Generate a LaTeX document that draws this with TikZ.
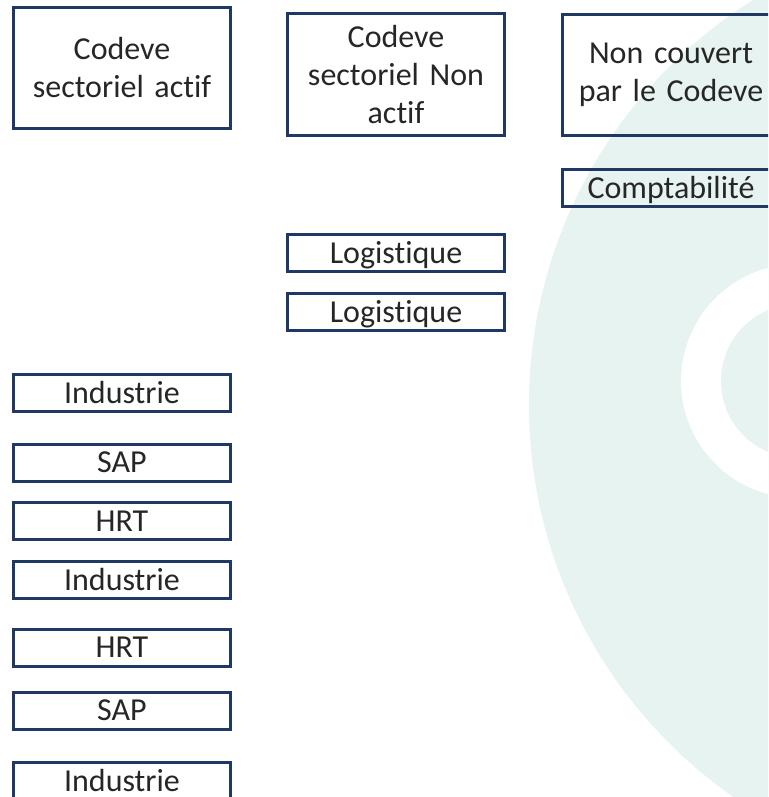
\documentclass[tikz,border=0pt]{standalone}
\usepackage{fontspec}
\setmainfont{Carlito}[Ligatures={NoCommon,NoContextual}, WordSpace=0.7]
\usepackage{tikz}
\usetikzlibrary{
  positioning,
  calc
}
\definecolor{cdnavy}{RGB}{31,56,100}
\definecolor{cdteal}{RGB}{230,243,240}
\definecolor{cdtext}{RGB}{38,38,38}

\begin{document}
\begin{tikzpicture}[
  x=1pt, y=-1pt,
  cbox/.style={
    draw=cdnavy, line width=3pt, text=cdtext, inner sep=0pt,
    minimum width=217pt, font=\fontsize{32}{38}\selectfont
  },
  headbox/.style={cbox, minimum height=121pt, align=center, text width=210pt},
  tagbox/.style={cbox, minimum height=37pt, text height=20pt, text depth=0pt}
]
  \useasboundingbox (0,0) rectangle (768,797);
  \clip (0,0) rectangle (768,797);

  % background
  \fill[cdteal] (1007,405) circle[radius=478pt];
  \fill[white] (798,381) circle[radius=117pt];
  \fill[cdteal] (798,381) circle[radius=77pt];

  % header row
  \node[headbox] (actif) at (122,68) {Codeve\\sectoriel actif};
  \node[headbox, minimum height=122pt] (nonactif) at (396,74.5)
    {Codeve\\sectoriel Non\\actif};
  \node[headbox] (noncouvert) at (671,75) {Non couvert\\par le Codeve};

  % non couvert
  \node[tagbox, below=31pt of noncouvert] (compta) {Comptabilité};

  % non actif
  \node[tagbox, below=96pt of nonactif] (logi1) {Logistique};
  \node[tagbox, below=19pt of logi1] (logi2) {Logistique};

  % actif
  \node[tagbox, below=243pt of actif] (indus1) {Industrie};
  \node[tagbox, below=29.5pt of indus1] (sap1) {SAP};
  \node[tagbox, below=18.5pt of sap1] (hrt1) {HRT};
  \node[tagbox, below=19pt of hrt1] (indus2) {Industrie};
  \node[tagbox, below=27.5pt of indus2] (hrt2) {HRT};
  \node[tagbox, below=23pt of hrt2] (sap2) {SAP};
  \node[tagbox, below=30.5pt of sap2] (indus3) {Industrie};
\end{tikzpicture}
\end{document}
